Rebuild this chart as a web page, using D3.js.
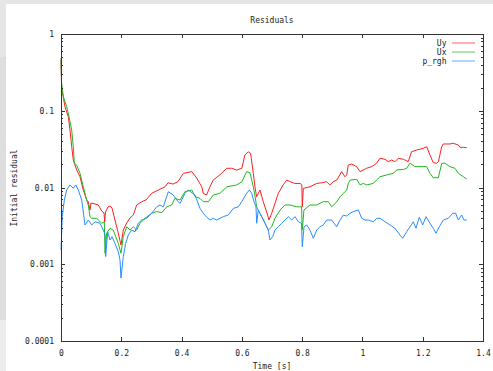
<!DOCTYPE html>
<html>
<head>
<meta charset="utf-8">
<script src="https://cdn.jsdelivr.net/npm/d3@7/dist/d3.min.js"></script>
<style>
  html, body { margin: 0; padding: 0; background: #fff; }
  svg { display: block; }
  text { font-family: "DejaVu Sans Mono", "Liberation Mono", monospace; font-size: 8px; fill: #222; }
</style>
</head>
<body>
<svg id="chart" width="493" height="371"></svg>
<script>
// Residual history of the solver fields (log scale)
const seriesNames = ["Uy", "Ux", "p_rgh"];
const seriesColors = ["#ff1f1f", "#1fb81f", "#2a8cff"];

const xTicks = [0, 0.2, 0.4, 0.6, 0.8, 1, 1.2, 1.4];
const xTickLabels = ["0", "0.2", "0.4", "0.6", "0.8", "1", "1.2", "1.4"];
const yTicks = [1, 0.1, 0.01, 0.001, 0.0001];
const yTickLabels = ["1", "0.1", "0.01", "0.001", "0.0001"];

const timeUy = [0, 0.002, 0.0066, 0.0133, 0.0242, 0.0299, 0.0355, 0.0408, 0.0521, 0.063, 0.074, 0.0853, 0.0906, 0.0962, 0.0995, 0.1128, 0.1237, 0.135, 0.1427, 0.145, 0.1476, 0.1559, 0.1626, 0.1692, 0.179, 0.19, 0.199, 0.2067, 0.218, 0.229, 0.24, 0.251, 0.268, 0.282, 0.301, 0.323, 0.345, 0.355, 0.372, 0.388, 0.406, 0.434, 0.45, 0.467, 0.472, 0.483, 0.494, 0.505, 0.527, 0.55, 0.566, 0.583, 0.6, 0.61, 0.621, 0.629, 0.638, 0.644, 0.649, 0.66, 0.671, 0.682, 0.69, 0.699, 0.71, 0.721, 0.737, 0.749, 0.76, 0.776, 0.793, 0.799, 0.8005, 0.804, 0.826, 0.848, 0.865, 0.881, 0.892, 0.903, 0.915, 0.931, 0.942, 0.948, 0.953, 0.964, 0.981, 0.992, 1.003, 1.014, 1.031, 1.047, 1.058, 1.075, 1.086, 1.097, 1.108, 1.119, 1.136, 1.152, 1.163, 1.18, 1.202, 1.213, 1.224, 1.235, 1.246, 1.252, 1.263, 1.268, 1.29, 1.301, 1.318, 1.324, 1.335, 1.346];
const Uy = [0.458, 0.204, 0.16, 0.112, 0.0836, 0.0561, 0.034, 0.0228, 0.0169, 0.0138, 0.00928, 0.00687, 0.00653, 0.00509, 0.00628, 0.0061, 0.00592, 0.00494, 0.00466, 0.00355, 0.0048, 0.00557, 0.00574, 0.00541, 0.00377, 0.00255, 0.00178, 0.00279, 0.00344, 0.00401, 0.00438, 0.00592, 0.00653, 0.00687, 0.0084, 0.00928, 0.0102, 0.0115, 0.0111, 0.0119, 0.0153, 0.0161, 0.0133, 0.0102, 0.0084, 0.00798, 0.0102, 0.0125, 0.0146, 0.0178, 0.0178, 0.0169, 0.0178, 0.0265, 0.0292, 0.0279, 0.0153, 0.00986, 0.00759, 0.00928, 0.00653, 0.00484, 0.00377, 0.00462, 0.0062, 0.0084, 0.0108, 0.0125, 0.0119, 0.0113, 0.0113, 0.0108, 0.0056, 0.00977, 0.0102, 0.0113, 0.0115, 0.0119, 0.0108, 0.0119, 0.0125, 0.0161, 0.0138, 0.0146, 0.0196, 0.0202, 0.0187, 0.0161, 0.0169, 0.0178, 0.0187, 0.0207, 0.024, 0.0233, 0.0217, 0.0228, 0.0217, 0.024, 0.0233, 0.0217, 0.0292, 0.0308, 0.0324, 0.034, 0.0265, 0.0211, 0.0207, 0.0217, 0.034, 0.0369, 0.0369, 0.0377, 0.0358, 0.0334, 0.0334, 0.033];

const timeUx = [0, 0.002, 0.0076, 0.0189, 0.0265, 0.0355, 0.0408, 0.0441, 0.0521, 0.063, 0.074, 0.0853, 0.0906, 0.0962, 0.1018, 0.1184, 0.135, 0.1437, 0.146, 0.1516, 0.1626, 0.1735, 0.1815, 0.19, 0.199, 0.2067, 0.218, 0.229, 0.24, 0.251, 0.262, 0.279, 0.301, 0.317, 0.334, 0.351, 0.367, 0.378, 0.395, 0.411, 0.434, 0.445, 0.461, 0.472, 0.489, 0.505, 0.527, 0.55, 0.583, 0.6, 0.616, 0.627, 0.638, 0.644, 0.649, 0.66, 0.677, 0.688, 0.699, 0.71, 0.727, 0.743, 0.76, 0.782, 0.798, 0.8005, 0.806, 0.826, 0.848, 0.87, 0.887, 0.898, 0.915, 0.926, 0.937, 0.948, 0.953, 0.959, 0.981, 0.992, 1.003, 1.014, 1.036, 1.047, 1.058, 1.081, 1.102, 1.114, 1.136, 1.147, 1.158, 1.174, 1.191, 1.213, 1.224, 1.235, 1.252, 1.263, 1.274, 1.29, 1.307, 1.318, 1.335, 1.346];
const Ux = [0.487, 0.228, 0.152, 0.113, 0.0836, 0.0561, 0.034, 0.0207, 0.0196, 0.0153, 0.0102, 0.00687, 0.00592, 0.00417, 0.00397, 0.00397, 0.00342, 0.00358, 0.00139, 0.00255, 0.00294, 0.00279, 0.00229, 0.00187, 0.00139, 0.00229, 0.00308, 0.00279, 0.00308, 0.00279, 0.00342, 0.00397, 0.00462, 0.00485, 0.0047, 0.0056, 0.00592, 0.00723, 0.00687, 0.00881, 0.00928, 0.00759, 0.00723, 0.00653, 0.00653, 0.00798, 0.0084, 0.0102, 0.0108, 0.0119, 0.0161, 0.0156, 0.0102, 0.00759, 0.0056, 0.00462, 0.00342, 0.00279, 0.00308, 0.00397, 0.00509, 0.00592, 0.00592, 0.0056, 0.0056, 0.00279, 0.00509, 0.00592, 0.00592, 0.00653, 0.00653, 0.0056, 0.00653, 0.00759, 0.0084, 0.00928, 0.0113, 0.0125, 0.0128, 0.0108, 0.0113, 0.0108, 0.0113, 0.0125, 0.0138, 0.0146, 0.0153, 0.0169, 0.0172, 0.0178, 0.0207, 0.0187, 0.0187, 0.0187, 0.0153, 0.0134, 0.0134, 0.0207, 0.0207, 0.0187, 0.0178, 0.0153, 0.0138, 0.0129];

const timePrgh = [0, 0.0043, 0.011, 0.0189, 0.0299, 0.0408, 0.0488, 0.0574, 0.0687, 0.0796, 0.0906, 0.1018, 0.1128, 0.1294, 0.1403, 0.1466, 0.1483, 0.1549, 0.1626, 0.1692, 0.179, 0.19, 0.1957, 0.199, 0.2067, 0.2146, 0.2233, 0.2345, 0.2455, 0.2564, 0.2677, 0.2843, 0.3009, 0.3175, 0.3284, 0.3394, 0.356, 0.3726, 0.3838, 0.3948, 0.4114, 0.4223, 0.4445, 0.4611, 0.4721, 0.4834, 0.4943, 0.5053, 0.5165, 0.5275, 0.5384, 0.555, 0.5716, 0.5882, 0.5995, 0.6161, 0.6247, 0.6327, 0.6403, 0.6469, 0.6492, 0.6545, 0.6658, 0.6768, 0.6877, 0.6934, 0.7023, 0.71, 0.7209, 0.7322, 0.7431, 0.7541, 0.7654, 0.7763, 0.7873, 0.7979, 0.8005, 0.8062, 0.8151, 0.826, 0.837, 0.8483, 0.8592, 0.8702, 0.8815, 0.898, 0.9146, 0.9256, 0.9366, 0.9478, 0.9588, 0.9697, 0.9863, 0.9976, 1.0085, 1.0195, 1.0361, 1.0473, 1.0583, 1.0749, 1.0915, 1.108, 1.1247, 1.1336, 1.1469, 1.1578, 1.1688, 1.1777, 1.1887, 1.2, 1.2109, 1.2242, 1.2351, 1.2441, 1.255, 1.2683, 1.2849, 1.2995, 1.3094, 1.318, 1.3293, 1.3369, 1.3459];
const Prgh = [0.00153, 0.00417, 0.00687, 0.00928, 0.0108, 0.00977, 0.0108, 0.00928, 0.00687, 0.00325, 0.00377, 0.00325, 0.00358, 0.00342, 0.00279, 0.0024, 0.00126, 0.00265, 0.00207, 0.00229, 0.00187, 0.00146, 0.00114, 0.00066, 0.00126, 0.00187, 0.0024, 0.00279, 0.00265, 0.00342, 0.00377, 0.00397, 0.00462, 0.0056, 0.00592, 0.0056, 0.00881, 0.00798, 0.00687, 0.0062, 0.0084, 0.00928, 0.00798, 0.00535, 0.00462, 0.0041, 0.00377, 0.00397, 0.00377, 0.00397, 0.00417, 0.00438, 0.00535, 0.0056, 0.00653, 0.0084, 0.00928, 0.0084, 0.00653, 0.0056, 0.00342, 0.00509, 0.00417, 0.00342, 0.00279, 0.00207, 0.00229, 0.00279, 0.00308, 0.00342, 0.00377, 0.00417, 0.00377, 0.00417, 0.00358, 0.00342, 0.00169, 0.00308, 0.00325, 0.00279, 0.00218, 0.00279, 0.00308, 0.00325, 0.00377, 0.00377, 0.00308, 0.00377, 0.00438, 0.00425, 0.00462, 0.00485, 0.00509, 0.00397, 0.00377, 0.00377, 0.00358, 0.00397, 0.00397, 0.00358, 0.00325, 0.00294, 0.0024, 0.00218, 0.00265, 0.00308, 0.00358, 0.00294, 0.0041, 0.00325, 0.00417, 0.00342, 0.00294, 0.00253, 0.00308, 0.00377, 0.00397, 0.00462, 0.00462, 0.00377, 0.00438, 0.00377, 0.00377];

const svg = d3.select("#chart");
const W = 493, H = 371;
const plot = { left: 61, right: 483, top: 34, bottom: 341 };

// page backdrop: white sheet with a light grey border strip on top/left
svg.append("rect").attr("x", 0).attr("y", 0).attr("width", W).attr("height", H).attr("fill", "#fff");
svg.append("rect").attr("x", 0).attr("y", 0).attr("width", W).attr("height", 4).attr("fill", "#e5e5e5");
svg.append("rect").attr("x", 0).attr("y", 0).attr("width", 6).attr("height", 57).attr("fill", "#e6e6e6");
svg.append("rect").attr("x", 0).attr("y", 57).attr("width", 6).attr("height", 263).attr("fill", "#dedede");
svg.append("rect").attr("x", 0).attr("y", 320).attr("width", 6).attr("height", 51).attr("fill", "#ececec");

const x = d3.scaleLinear().domain([0, 1.4]).range([plot.left, plot.right]);
const y = d3.scaleLog().domain([0.0001, 1]).range([plot.bottom, plot.top]);

// series lines
const series = [
  { name: seriesNames[0], t: timeUy, v: Uy, color: seriesColors[0] },
  { name: seriesNames[1], t: timeUx, v: Ux, color: seriesColors[1] },
  { name: seriesNames[2], t: timePrgh, v: Prgh, color: seriesColors[2] }
];
const line = d3.line().x(d => x(d[0])).y(d => y(d[1]));
series.forEach(s => {
  svg.append("path")
    .datum(s.t.map((t, i) => [t, s.v[i]]))
    .attr("d", line)
    .attr("fill", "none")
    .attr("stroke", s.color)
    .attr("stroke-width", 1)
    .attr("stroke-linejoin", "round");
});

// axes with inward ticks, mirrored on top and right
const axisColor = "#333";
const gB = svg.append("g").attr("transform", `translate(0,${plot.bottom})`)
  .call(d3.axisBottom(x).tickValues(xTicks).tickFormat((d, i) => xTickLabels[i]).tickSizeInner(-4).tickSizeOuter(0).tickPadding(9));
const gT = svg.append("g").attr("transform", `translate(0,${plot.top})`)
  .call(d3.axisTop(x).tickValues(xTicks).tickFormat("").tickSizeInner(-4).tickSizeOuter(0));
const gL = svg.append("g").attr("transform", `translate(${plot.left},0)`)
  .call(d3.axisLeft(y).tickValues(yTicks).tickFormat((d, i) => yTickLabels[i]).tickSizeInner(-4).tickSizeOuter(0).tickPadding(7));
const gR = svg.append("g").attr("transform", `translate(${plot.right},0)`)
  .call(d3.axisRight(y).tickValues(yTicks).tickFormat("").tickSizeInner(-4).tickSizeOuter(0));

// minor log ticks (2..9 per decade)
const minor = [];
[0.0001, 0.001, 0.01, 0.1].forEach(b => { for (let k = 2; k <= 9; k++) minor.push(b * k); });
const gLm = svg.append("g").attr("transform", `translate(${plot.left},0)`)
  .call(d3.axisLeft(y).tickValues(minor).tickFormat("").tickSizeInner(-2).tickSizeOuter(0));
const gRm = svg.append("g").attr("transform", `translate(${plot.right},0)`)
  .call(d3.axisRight(y).tickValues(minor).tickFormat("").tickSizeInner(-2).tickSizeOuter(0));

[gB, gT, gL, gR, gLm, gRm].forEach(g => {
  g.select(".domain").remove();
  g.selectAll("line").attr("stroke", axisColor).attr("shape-rendering", "crispEdges");
  g.selectAll("text").attr("fill", "#222").attr("font-family", null).attr("font-size", null);
});

// frame
svg.append("rect")
  .attr("x", plot.left).attr("y", plot.top)
  .attr("width", plot.right - plot.left).attr("height", plot.bottom - plot.top)
  .attr("fill", "none").attr("stroke", axisColor).attr("shape-rendering", "crispEdges");

// titles
svg.append("text").attr("x", 272).attr("y", 23).attr("text-anchor", "middle").text("Residuals");
svg.append("text").attr("x", 272).attr("y", 369).attr("text-anchor", "middle").text("Time [s]");
svg.append("text").attr("transform", "translate(17,188) rotate(-90)").attr("text-anchor", "middle").text("Initial residual");

// legend
const legendRows = [42.5, 51.7, 61];
series.forEach((s, i) => {
  svg.append("text").attr("x", 446.5).attr("y", legendRows[i] + 3).attr("text-anchor", "end").text(s.name);
  svg.append("line")
    .attr("x1", 452).attr("x2", 475)
    .attr("y1", Math.round(legendRows[i])).attr("y2", Math.round(legendRows[i]))
    .attr("stroke", s.color).attr("stroke-width", 1.2).attr("stroke-opacity", 0.6);
});
</script>
</body>
</html>
